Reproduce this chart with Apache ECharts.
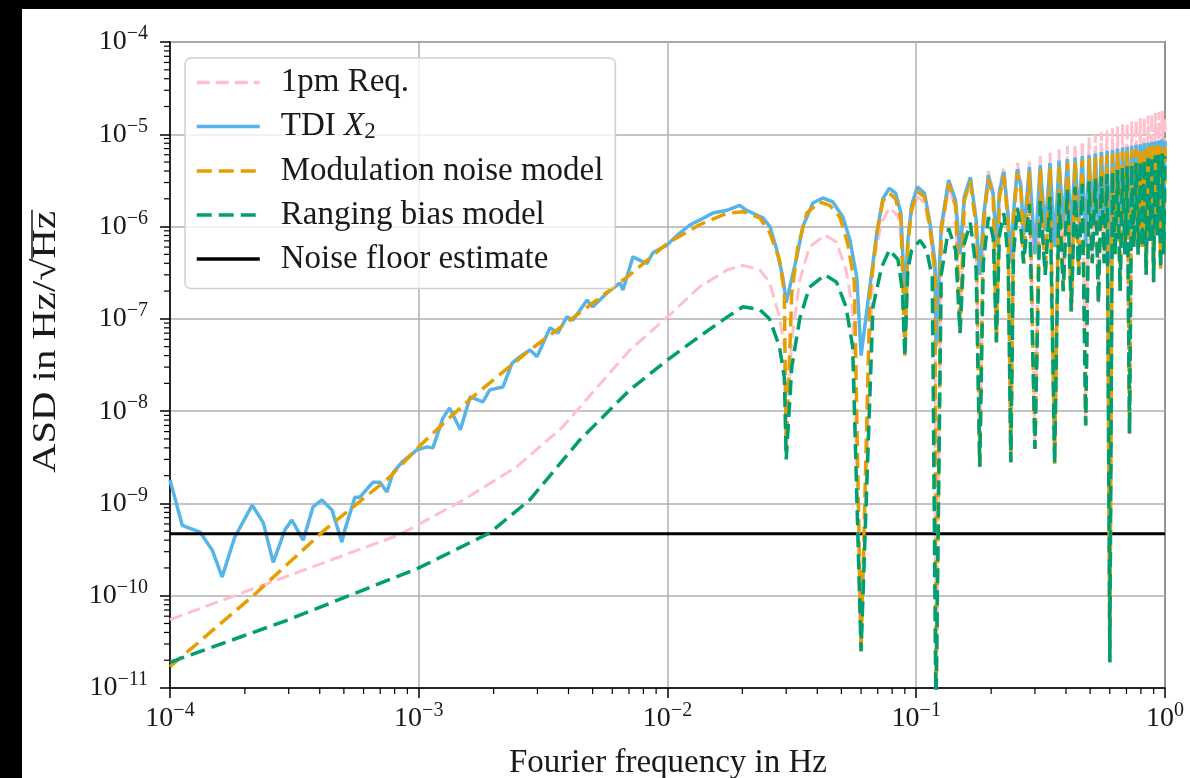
<!DOCTYPE html>
<html><head><meta charset="utf-8">
<script src="https://cdn.jsdelivr.net/npm/echarts@6/dist/echarts.min.js"></script>
<style>
html,body{margin:0;padding:0;background:#000;width:1190px;height:778px;overflow:hidden}
#chart{position:absolute;left:22px;top:9px;width:1168px;height:769px;background:#fff}
</style></head><body><div id="chart"></div>
<script>
// ---------- data ----------
const seriesNames = ['1pm Req.', 'TDI X2', 'Modulation noise model', 'Ranging bias model', 'Noise floor estimate'];

// detailed low-frequency parts, [frequency Hz, ASD]
const reqLow = [[1e-4,5.5e-11],[3e-4,1.65e-10],[8.4e-4,4.6e-10],[1.51e-3,1.09e-9],[2.48e-3,2.5e-9],[3.8e-3,6.8e-9],[5.2e-3,1.8e-8],[7.06e-3,4.6e-8],[1e-2,1.05e-7],[1.34e-2,2.2e-7],[1.74e-2,3.4e-7],[2.01e-2,3.8e-7],[2.35e-2,3.4e-7],[2.57e-2,2.5e-7],[2.82e-2,1.05e-7],[2.95e-2,5e-8],[0.03,3.5e-9],[0.0316,6e-8],[0.034,2.6e-7],[0.0372,6e-7],[0.043,8.1e-7],[0.0478,6.8e-7],[0.0522,3.4e-7],[0.0555,1.26e-7],[0.06,2.5e-11],[0.067,4e-7],[0.0725,1.1e-6],[0.078,1.6e-6],[0.0844,1.3e-6],[0.088,6e-7],[0.09,4e-8],[0.0925,7e-7],[0.0958,1.5e-6],[0.101,2.1e-6],[0.108,1.8e-6],[0.1135,9e-7],[0.119,3e-7]];

const tdiLow = [[1e-4,1.8e-9],[1.12e-4,5.8e-10],[1.32e-4,4.9e-10],[1.48e-4,3.1e-10],[1.62e-4,1.6e-10],[1.82e-4,4.3e-10],[2.14e-4,9.6e-10],[2.37e-4,6.2e-10],[2.6e-4,2.3e-10],[2.9e-4,5.2e-10],[3.09e-4,6.6e-10],[3.43e-4,4.0e-10],[3.76e-4,9.2e-10],[4.08e-4,1.09e-9],[4.48e-4,8.5e-10],[4.91e-4,3.8e-10],[5.05e-4,5.2e-10],[5.54e-4,1.17e-9],[5.8e-4,1.17e-9],[6.55e-4,1.7e-9],[6.98e-4,1.7e-9],[7.45e-4,1.33e-9],[7.87e-4,2.14e-9],[8.56e-4,2.8e-9],[9.84e-4,3.8e-9],[1.08e-3,4.1e-9],[1.14e-3,4.0e-9],[1.25e-3,8.4e-9],[1.33e-3,1.08e-8],[1.47e-3,6.3e-9],[1.61e-3,1.43e-8],[1.81e-3,1.26e-8],[1.93e-3,1.7e-8],[2.18e-3,1.83e-8],[2.37e-3,3.3e-8],[2.55e-3,3.9e-8],[2.8e-3,4.6e-8],[2.99e-3,3.9e-8],[3.37e-3,8e-8],[3.62e-3,7e-8],[3.94e-3,1.05e-7],[4.17e-3,9.7e-8],[4.75e-3,1.6e-7],[5.01e-3,1.35e-7],[5.7e-3,1.9e-7],[6.44e-3,2.45e-7],[6.62e-3,2.05e-7],[7.06e-3,3.65e-7],[7.26e-3,4.7e-7],[7.75e-3,4.3e-7],[8.27e-3,4e-7],[8.73e-3,5.2e-7],[9.95e-3,6.3e-7],[1.12e-2,8.5e-7],[1.23e-2,1.04e-6],[1.35e-2,1.18e-6],[1.52e-2,1.4e-6],[1.73e-2,1.5e-6],[1.95e-2,1.7e-6],[2.08e-2,1.5e-6],[2.42e-2,1.24e-6],[2.58e-2,1e-6],[2.75e-2,5.6e-7],[2.91e-2,2.8e-7],[0.03,1.5e-7],[3.31e-2,4.7e-7],[3.5e-2,1e-6],[3.84e-2,1.8e-6],[4.21e-2,2.04e-6],[4.62e-2,1.85e-6],[5.07e-2,1.27e-6],[5.41e-2,7.2e-7],[5.77e-2,2.8e-7],[0.06,4e-8],[0.0652,2.3e-7],[0.0696,9e-7],[0.0734,2e-6],[0.078,2.6e-6],[0.0826,2.3e-6],[0.0868,1.4e-6],[0.09,1.5e-7],[0.0925,7e-7],[0.0958,1.7e-6],[0.101,2.7e-6],[0.108,2.3e-6],[0.1135,1.1e-6],[0.119,4e-7]];

const modLow = [[1e-4,1.7e-11],[2.16e-4,1e-10],[4.2e-4,5.2e-10],[7.6e-4,1.9e-9],[1e-3,4.1e-9],[1.33e-3,8.5e-9],[1.65e-3,1.43e-8],[2.8e-3,4.6e-8],[5.2e-3,1.6e-7],[7.06e-3,3e-7],[1e-2,6.6e-7],[1.34e-2,1.04e-6],[1.74e-2,1.4e-6],[2.01e-2,1.45e-6],[2.35e-2,1.24e-6],[2.57e-2,8.7e-7],[2.82e-2,4.4e-7],[2.95e-2,1.9e-7],[0.03,3.5e-9],[0.0316,1.9e-7],[0.0334,6e-7],[0.0363,1.4e-6],[0.0408,1.85e-6],[0.0449,1.7e-6],[0.0493,1.27e-6],[0.053,6.6e-7],[0.0564,2.5e-7],[0.06,2.5e-11],[0.0652,2e-7],[0.0696,8.5e-7],[0.0734,1.9e-6],[0.078,2.3e-6],[0.0826,2.0e-6],[0.0868,1.2e-6],[0.09,4e-8],[0.0925,6.6e-7],[0.0958,1.5e-6],[0.101,2.4e-6],[0.108,2.1e-6],[0.1135,1e-6],[0.119,3e-7]];

const rangLow = [[1e-4,1.9e-11],[3e-4,5.5e-11],[1e-3,2e-10],[1.93e-3,4.8e-10],[2.8e-3,1.1e-9],[4.45e-3,4.9e-9],[7.06e-3,1.7e-8],[1e-2,3.6e-8],[1.34e-2,6.4e-8],[1.74e-2,1.05e-7],[2.01e-2,1.35e-7],[2.35e-2,1.26e-7],[2.57e-2,1e-7],[2.82e-2,5e-8],[2.95e-2,2.3e-8],[0.03,3e-9],[0.0316,3e-8],[0.034,1e-7],[0.0372,2.2e-7],[0.043,3e-7],[0.0478,2.5e-7],[0.0522,1.35e-7],[0.0555,5e-8],[0.06,2.5e-11],[0.067,1.35e-7],[0.0725,3.6e-7],[0.078,5.6e-7],[0.0844,4.4e-7],[0.088,2e-7],[0.09,3.9e-8],[0.0925,3.4e-7],[0.0958,5.5e-7],[0.1035,7.1e-7],[0.11,5.6e-7],[0.116,2.8e-7]];

// high-frequency lobes (nulls / shoulders / peaks) shared frequencies
const lobeF = [0.12,0.126,0.135,0.144,0.15,0.156,0.165,0.174,0.18,0.186,0.195,0.204,0.21,0.216,0.225,0.234,0.24,0.246,0.255,0.264,0.27,0.285,0.30,0.315,0.33,0.345,0.36,0.375,0.39,0.405,0.42,0.435,0.45,0.465,0.48,0.495,0.51,0.525,0.54,0.555,0.57,0.585,0.60,0.615,0.63,0.645,0.66,0.675,0.69,0.705,0.72,0.735,0.75,0.765,0.78,0.795,0.81,0.825,0.84,0.855,0.87,0.885,0.90,0.915,0.93,0.945,0.96,0.975,0.99,1.0];

const reqLobe = [5e-12,8e-7,2.7e-6,1.6e-6,7e-8,2.0e-6,3.4e-6,1.1e-6,2.5e-9,1.2e-6,4.0e-6,2.4e-6,5.6e-8,2.7e-6,4.5e-6,1.4e-6,2.8e-9,1.5e-6,4.9e-6,3.0e-6,4e-7,5.3e-6,3.9e-9,5.8e-6,3e-7,6.3e-6,2.7e-9,6.9e-6,2e-7,7.5e-6,1.2e-7,8.0e-6,3e-7,8.6e-6,7e-9,9.3e-6,4e-7,9.9e-6,1.5e-7,1.05e-5,4e-7,1.1e-5,1.9e-11,1.16e-5,5e-7,1.22e-5,2e-7,1.28e-5,5e-7,1.33e-5,5.7e-9,1.38e-5,6e-7,1.44e-5,5e-7,1.49e-5,6e-7,1.54e-5,3e-7,1.6e-5,7e-7,1.65e-5,2.5e-7,1.7e-5,8e-7,1.75e-5,3.5e-7,1.8e-5,5e-7,1.7e-5];

const tdiLobe = [5e-8,1.0e-6,3.2e-6,1.9e-6,5e-7,2.1e-6,3.4e-6,1.2e-6,3e-7,1.2e-6,3.6e-6,2.2e-6,6e-7,2.4e-6,3.9e-6,1.3e-6,4e-7,1.4e-6,4.2e-6,2.6e-6,8e-7,4.4e-6,5e-7,4.6e-6,9e-7,4.9e-6,6e-7,5.2e-6,1e-6,5.4e-6,8e-7,5.6e-6,1.1e-6,5.8e-6,6e-7,6.0e-6,1.2e-6,6.2e-6,9e-7,6.4e-6,1.3e-6,6.6e-6,4e-7,6.8e-6,1.4e-6,7.0e-6,1e-6,7.2e-6,1.5e-6,7.3e-6,8e-7,7.5e-6,1.6e-6,7.7e-6,1.5e-6,7.8e-6,1.7e-6,8.0e-6,1.2e-6,8.1e-6,1.8e-6,8.3e-6,1.2e-6,8.4e-6,1.9e-6,8.6e-6,1.4e-6,8.8e-6,1.6e-6,8.5e-6];

const modLobe = [5e-12,9e-7,2.9e-6,1.7e-6,7e-8,1.9e-6,3.1e-6,1.0e-6,2.5e-9,1.0e-6,3.3e-6,2.0e-6,5.6e-8,2.1e-6,3.5e-6,1.1e-6,2.8e-9,1.2e-6,3.8e-6,2.3e-6,4e-7,4.0e-6,3.9e-9,4.2e-6,3e-7,4.4e-6,2.7e-9,4.7e-6,2e-7,4.9e-6,1.2e-7,5.1e-6,3e-7,5.3e-6,7e-9,5.5e-6,4e-7,5.6e-6,1.5e-7,5.8e-6,4e-7,6.0e-6,1.9e-11,6.2e-6,5e-7,6.3e-6,2e-7,6.5e-6,5e-7,6.6e-6,5.7e-9,6.8e-6,6e-7,6.9e-6,5e-7,7.0e-6,6e-7,7.2e-6,3e-7,7.3e-6,7e-7,7.4e-6,2.5e-7,7.5e-6,8e-7,7.6e-6,3.5e-7,7.7e-6,5e-7,7.3e-6];

const rangLobe = [5e-12,3e-7,9.6e-7,5.5e-7,7e-8,6.5e-7,1.1e-6,3.5e-7,2.5e-9,4e-7,1.27e-6,7.5e-7,5.6e-8,8e-7,1.4e-6,4.5e-7,2.8e-9,5e-7,1.6e-6,9e-7,4e-7,1.75e-6,3.9e-9,1.9e-6,3e-7,2.1e-6,2.7e-9,2.3e-6,2e-7,2.5e-6,1.2e-7,2.7e-6,3e-7,2.9e-6,7e-9,3.1e-6,4e-7,3.3e-6,1.5e-7,3.5e-6,4e-7,3.7e-6,1.9e-11,3.9e-6,5e-7,4.1e-6,2e-7,4.3e-6,5e-7,4.5e-6,5.7e-9,4.7e-6,6e-7,4.9e-6,5e-7,5.1e-6,6e-7,5.3e-6,3e-7,5.5e-6,7e-7,5.7e-6,2.5e-7,5.9e-6,8e-7,6.0e-6,3.5e-7,6.2e-6,5e-7,5.8e-6];

const noiseFloor = [[1e-4,4.7e-10],[1,4.7e-10]];

// axis ticks
const xRange = [1e-4, 1];
const yRange = [1e-11, 1e-4];
const minorMult = [2,3,4,5,6,7,8,9];
const xDecades = [1e-4,1e-3,1e-2,1e-1];
const yDecades = [1e-11,1e-10,1e-9,1e-8,1e-7,1e-6,1e-5];

const xTitle = 'Fourier frequency in Hz';
const yTitle = 'ASD in Hz/\u221AHz';

// ---------- build ----------
const pairs = (fs, vs) => fs.map((f, i) => [f, vs[i]]);
const xMinor = [], yMinor = [];
xDecades.forEach(d => minorMult.forEach(m => xMinor.push([d*m, yRange[0]])));
yDecades.forEach(d => minorMult.forEach(m => yMinor.push([xRange[0], d*m])));

const FONT = '"Liberation Serif", "DejaVu Serif", serif';
const TXT = '#1a1a1a';
const TFS = 33;

function expLabel(v){
  const e = Math.round(Math.log10(v));
  return '{b|10}{s|' + (e < 0 ? '\u2212' : '') + Math.abs(e) + '}';
}
const tickRich = {
  b: {fontFamily: FONT, fontSize: 28, color: TXT, lineHeight: 36},
  s: {fontFamily: FONT, fontSize: 20, color: TXT, lineHeight: 18, verticalAlign: 'top'}
};

const ctx = document.createElement('canvas').getContext('2d');
ctx.font = TFS + 'px "Liberation Serif"';
const yFull = ctx.measureText(yTitle).width;
const yHz = ctx.measureText('Hz').width;
const yStretch = 262 / yFull;

function tickSeries(data, dx, dy){
  return {
    type: 'custom', silent: true, data: data, z: 5,
    renderItem: function(params, api){
      const p = api.coord([api.value(0), api.value(1)]);
      return {type: 'line', shape: {x1: p[0], y1: p[1], x2: p[0] + dx, y2: p[1] + dy},
        style: {stroke: '#000', lineWidth: 1.2}};
    }
  };
}

const chart = echarts.init(document.getElementById('chart'), null, {renderer: 'canvas'});
chart.setOption({
  animation: false,
  backgroundColor: '#fff',
  grid: {left: 148, top: 33, right: 25, bottom: 90, show: true, borderColor: '#000', borderWidth: 1.5, backgroundColor: 'transparent'},
  xAxis: {
    type: 'log', logBase: 10, min: xRange[0], max: xRange[1], interval: 1,
    axisLine: {lineStyle: {color: '#000', width: 1.5}},
    axisTick: {length: 10, lineStyle: {color: '#000', width: 1.5}},
    splitLine: {show: true, lineStyle: {color: '#b0b0b0', width: 1.5}},
    axisLabel: {formatter: expLabel, margin: 13, rich: tickRich, showMinLabel: true, showMaxLabel: true}
  },
  yAxis: {
    type: 'log', logBase: 10, min: yRange[0], max: yRange[1], interval: 1,
    axisLine: {lineStyle: {color: '#000', width: 1.5}},
    axisTick: {length: 10, lineStyle: {color: '#000', width: 1.5}},
    splitLine: {show: true, lineStyle: {color: '#b0b0b0', width: 1.5}},
    axisLabel: {formatter: expLabel, margin: 22, rich: tickRich, showMinLabel: true, showMaxLabel: true}
  },
  legend: {
    orient: 'vertical', left: 163, top: 49,
    padding: [8, 12, 13, 10],
    itemWidth: 63, itemHeight: 14, itemGap: 11,
    backgroundColor: 'rgba(255,255,255,0.8)', borderColor: '#cfcfcf', borderWidth: 1.5, borderRadius: 6,
    itemStyle: {opacity: 0},
    lineStyle: {width: 3.5},
    data: seriesNames,
    formatter: function(name){
      if (name === 'TDI X2') return '{t|TDI }{i|X}{sub|2}';
      return '{t|' + name + '}';
    },
    textStyle: {
      fontFamily: FONT, fontSize: TFS, color: TXT,
      rich: {
        t: {fontFamily: FONT, fontSize: TFS, color: TXT, lineHeight: 34, padding: [0, 0, 0, 16]},
        i: {fontFamily: FONT, fontSize: TFS, color: TXT, fontStyle: 'italic', lineHeight: 34},
        sub: {fontFamily: FONT, fontSize: 23, color: TXT, lineHeight: 22, verticalAlign: 'bottom'}
      }
    }
  },
  graphic: [
    {type: 'group', x: 24, y: 333, rotation: Math.PI / 2, scaleX: yStretch, children: [
      {type: 'text', x: 0, y: 0, style: {text: yTitle, font: TFS + 'px "Liberation Serif"', fill: TXT, align: 'center', verticalAlign: 'middle'}},
      {type: 'line', shape: {x1: yFull/2 - yHz - 1, y1: -14, x2: yFull/2 + 1, y2: -14}, style: {stroke: TXT, lineWidth: 1.5}}
    ]},
    {type: 'text', x: 646, y: 754, style: {text: xTitle, font: TFS + 'px "Liberation Serif"', fill: TXT, align: 'center', verticalAlign: 'middle'}}
  ],
  series: [
    {name: '1pm Req.', type: 'line', data: reqLow.concat(pairs(lobeF, reqLobe)), symbol: 'none', showSymbol: false,
      lineStyle: {color: '#FFC0CB', width: 3, type: [13, 6]}, itemStyle: {color: '#FFC0CB'}, z: 2},
    {name: 'TDI X2', type: 'line', data: tdiLow.concat(pairs(lobeF, tdiLobe)), symbol: 'none', showSymbol: false,
      lineStyle: {color: '#56B4E9', width: 3.5}, itemStyle: {color: '#56B4E9'}, z: 2},
    {name: 'Noise floor estimate', type: 'line', data: noiseFloor, symbol: 'none', showSymbol: false,
      lineStyle: {color: '#000', width: 3}, itemStyle: {color: '#000'}, z: 2},
    {name: 'Modulation noise model', type: 'line', data: modLow.concat(pairs(lobeF, modLobe)), symbol: 'none', showSymbol: false,
      lineStyle: {color: '#E69F00', width: 3.5, type: [15, 7]}, itemStyle: {color: '#E69F00'}, z: 2},
    {name: 'Ranging bias model', type: 'line', data: rangLow.concat(pairs(lobeF, rangLobe)), symbol: 'none', showSymbol: false,
      lineStyle: {color: '#009E73', width: 3.5, type: [15, 7]}, itemStyle: {color: '#009E73'}, z: 2},
    tickSeries(xMinor, 0, 6),
    tickSeries(yMinor, -6, 0)
  ]
});
</script></body></html>
